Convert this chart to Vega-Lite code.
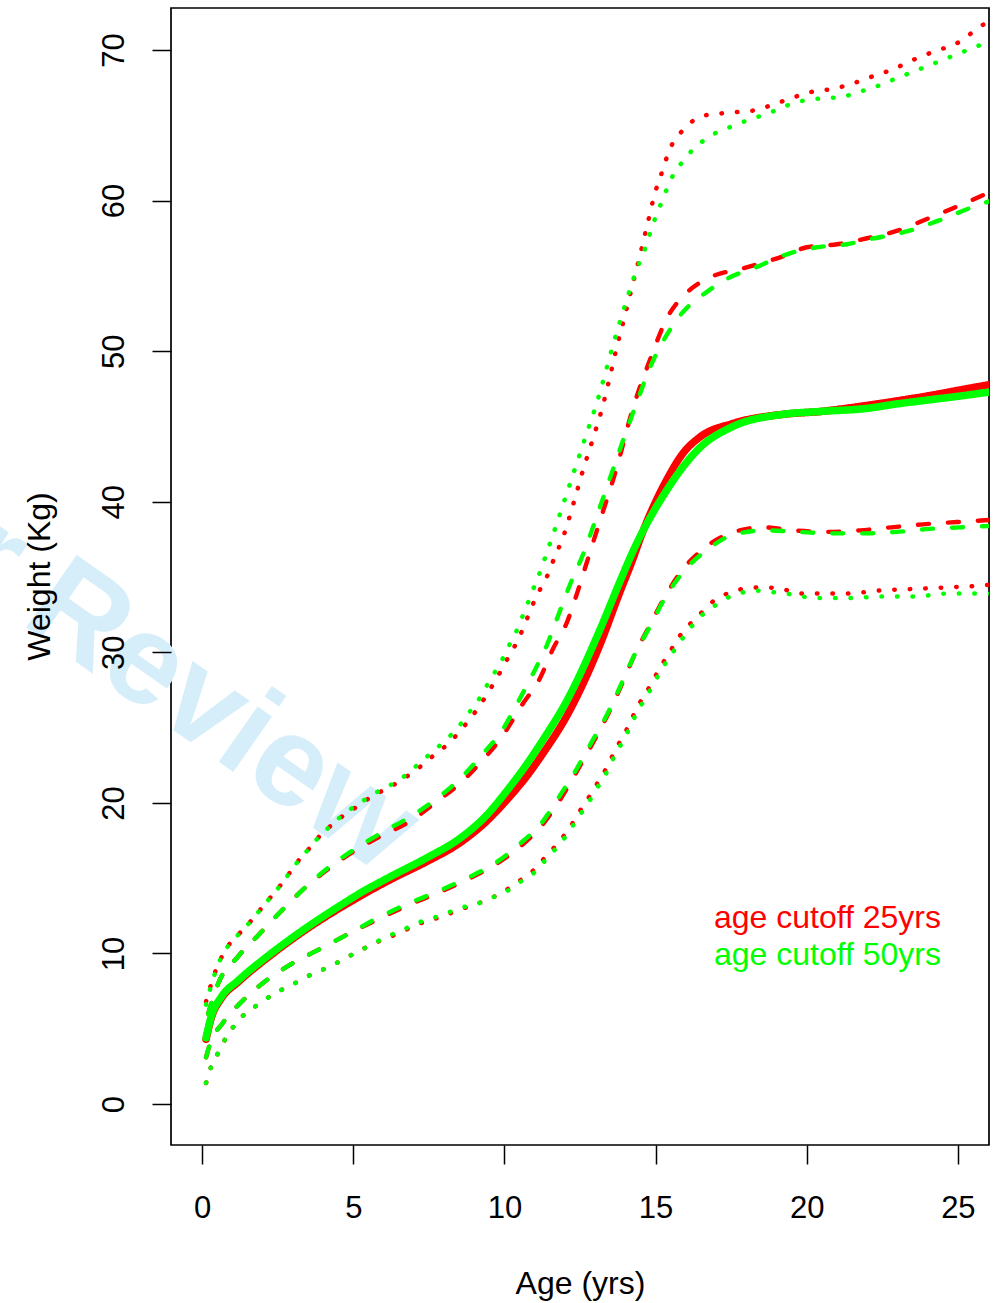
{
"$schema": "https://vega.github.io/schema/vega-lite/v6.json",
"width": 818,
"height": 1137,
"autosize": {"type": "none"},
"padding": {"left": 171, "top": 8, "right": 10, "bottom": 158},
"background": "white",
"config": {
  "view": {"stroke": "black", "strokeWidth": 1.7},
  "font": "Liberation Sans"
},
"datasets": {
"notes": [
  {"age": 5.9, "weight": 15.2, "label": "For Peer Review", "kind": "watermark"}
],
"legend": [
  {"age": 16.93, "weight": 11.69, "label": "age cutoff 25yrs", "cutoff": "25yrs"},
  {"age": 16.93, "weight": 9.23, "label": "age cutoff 50yrs", "cutoff": "50yrs"}
],
"curves": [
{"cutoff":"25yrs","curve":"median","age":0.13,"weight":4.3},
{"cutoff":"25yrs","curve":"median","age":0.3,"weight":5.7},
{"cutoff":"25yrs","curve":"median","age":0.63,"weight":7.0},
{"cutoff":"25yrs","curve":"median","age":1.19,"weight":8.1},
{"cutoff":"25yrs","curve":"median","age":2.28,"weight":9.9},
{"cutoff":"25yrs","curve":"median","age":3.37,"weight":11.5},
{"cutoff":"25yrs","curve":"median","age":4.5,"weight":12.95},
{"cutoff":"25yrs","curve":"median","age":5.22,"weight":13.8},
{"cutoff":"25yrs","curve":"median","age":6.32,"weight":15.0},
{"cutoff":"25yrs","curve":"median","age":7.43,"weight":16.1},
{"cutoff":"25yrs","curve":"median","age":8.53,"weight":17.35},
{"cutoff":"25yrs","curve":"median","age":9.42,"weight":18.8},
{"cutoff":"25yrs","curve":"median","age":10.08,"weight":20.2},
{"cutoff":"25yrs","curve":"median","age":10.75,"weight":21.8},
{"cutoff":"25yrs","curve":"median","age":11.28,"weight":23.3},
{"cutoff":"25yrs","curve":"median","age":12.07,"weight":25.8},
{"cutoff":"25yrs","curve":"median","age":13.16,"weight":30.5},
{"cutoff":"25yrs","curve":"median","age":13.8,"weight":33.9},
{"cutoff":"25yrs","curve":"median","age":14.25,"weight":36.2},
{"cutoff":"25yrs","curve":"median","age":14.5,"weight":37.6},
{"cutoff":"25yrs","curve":"median","age":15.38,"weight":41.5},
{"cutoff":"25yrs","curve":"median","age":15.9,"weight":43.2},
{"cutoff":"25yrs","curve":"median","age":16.47,"weight":44.3},
{"cutoff":"25yrs","curve":"median","age":17.56,"weight":45.2},
{"cutoff":"25yrs","curve":"median","age":19.2,"weight":45.8},
{"cutoff":"25yrs","curve":"median","age":20.5,"weight":46.0},
{"cutoff":"25yrs","curve":"median","age":22.0,"weight":46.4},
{"cutoff":"25yrs","curve":"median","age":23.0,"weight":46.7},
{"cutoff":"25yrs","curve":"median","age":24.2,"weight":47.1},
{"cutoff":"25yrs","curve":"median","age":25.0,"weight":47.4},
{"cutoff":"25yrs","curve":"median","age":26.1,"weight":47.8},

{"cutoff":"50yrs","curve":"median","age":0.13,"weight":4.4},
{"cutoff":"50yrs","curve":"median","age":0.3,"weight":5.8},
{"cutoff":"50yrs","curve":"median","age":0.63,"weight":7.1},
{"cutoff":"50yrs","curve":"median","age":1.19,"weight":8.2},
{"cutoff":"50yrs","curve":"median","age":2.28,"weight":10.0},
{"cutoff":"50yrs","curve":"median","age":3.37,"weight":11.6},
{"cutoff":"50yrs","curve":"median","age":4.5,"weight":13.1},
{"cutoff":"50yrs","curve":"median","age":5.22,"weight":14.0},
{"cutoff":"50yrs","curve":"median","age":6.32,"weight":15.2},
{"cutoff":"50yrs","curve":"median","age":7.43,"weight":16.35},
{"cutoff":"50yrs","curve":"median","age":8.53,"weight":17.65},
{"cutoff":"50yrs","curve":"median","age":9.42,"weight":19.2},
{"cutoff":"50yrs","curve":"median","age":10.08,"weight":20.8},
{"cutoff":"50yrs","curve":"median","age":10.75,"weight":22.6},
{"cutoff":"50yrs","curve":"median","age":11.28,"weight":24.2},
{"cutoff":"50yrs","curve":"median","age":12.07,"weight":26.8},
{"cutoff":"50yrs","curve":"median","age":13.16,"weight":31.5},
{"cutoff":"50yrs","curve":"median","age":13.8,"weight":34.6},
{"cutoff":"50yrs","curve":"median","age":14.25,"weight":36.7},
{"cutoff":"50yrs","curve":"median","age":15.38,"weight":40.8},
{"cutoff":"50yrs","curve":"median","age":15.9,"weight":42.3},
{"cutoff":"50yrs","curve":"median","age":16.47,"weight":43.6},
{"cutoff":"50yrs","curve":"median","age":17.56,"weight":45.0},
{"cutoff":"50yrs","curve":"median","age":19.2,"weight":45.8},
{"cutoff":"50yrs","curve":"median","age":20.5,"weight":46.0},
{"cutoff":"50yrs","curve":"median","age":22.0,"weight":46.2},
{"cutoff":"50yrs","curve":"median","age":23.0,"weight":46.5},
{"cutoff":"50yrs","curve":"median","age":24.2,"weight":46.8},
{"cutoff":"50yrs","curve":"median","age":25.0,"weight":47.0},
{"cutoff":"50yrs","curve":"median","age":26.1,"weight":47.3},

{"cutoff":"25yrs","curve":"upper inner","age":0.2,"weight":6.0},
{"cutoff":"25yrs","curve":"upper inner","age":0.53,"weight":8.0},
{"cutoff":"25yrs","curve":"upper inner","age":1.19,"weight":9.8},
{"cutoff":"25yrs","curve":"upper inner","age":1.85,"weight":11.2},
{"cutoff":"25yrs","curve":"upper inner","age":2.61,"weight":12.8},
{"cutoff":"25yrs","curve":"upper inner","age":3.37,"weight":14.3},
{"cutoff":"25yrs","curve":"upper inner","age":4.17,"weight":15.6},
{"cutoff":"25yrs","curve":"upper inner","age":5.03,"weight":16.8},
{"cutoff":"25yrs","curve":"upper inner","age":5.92,"weight":17.8},
{"cutoff":"25yrs","curve":"upper inner","age":6.9,"weight":18.8},
{"cutoff":"25yrs","curve":"upper inner","age":7.77,"weight":20.1},
{"cutoff":"25yrs","curve":"upper inner","age":8.53,"weight":21.3},
{"cutoff":"25yrs","curve":"upper inner","age":9.26,"weight":22.8},
{"cutoff":"25yrs","curve":"upper inner","age":9.92,"weight":24.4},
{"cutoff":"25yrs","curve":"upper inner","age":10.58,"weight":26.5},
{"cutoff":"25yrs","curve":"upper inner","age":11.18,"weight":28.3},
{"cutoff":"25yrs","curve":"upper inner","age":11.6,"weight":30.2},
{"cutoff":"25yrs","curve":"upper inner","age":12.07,"weight":32.0},
{"cutoff":"25yrs","curve":"upper inner","age":12.4,"weight":33.9},
{"cutoff":"25yrs","curve":"upper inner","age":12.73,"weight":36.0},
{"cutoff":"25yrs","curve":"upper inner","age":13.06,"weight":38.1},
{"cutoff":"25yrs","curve":"upper inner","age":13.72,"weight":42.3},
{"cutoff":"25yrs","curve":"upper inner","age":14.25,"weight":46.2},
{"cutoff":"25yrs","curve":"upper inner","age":14.81,"weight":49.4},
{"cutoff":"25yrs","curve":"upper inner","age":15.38,"weight":52.2},
{"cutoff":"25yrs","curve":"upper inner","age":16.04,"weight":53.9},
{"cutoff":"25yrs","curve":"upper inner","age":16.8,"weight":54.9},
{"cutoff":"25yrs","curve":"upper inner","age":17.89,"weight":55.5},
{"cutoff":"25yrs","curve":"upper inner","age":19.21,"weight":56.3},
{"cutoff":"25yrs","curve":"upper inner","age":20.0,"weight":56.9},
{"cutoff":"25yrs","curve":"upper inner","age":21.0,"weight":57.1},
{"cutoff":"25yrs","curve":"upper inner","age":22.0,"weight":57.5},
{"cutoff":"25yrs","curve":"upper inner","age":23.0,"weight":58.0},
{"cutoff":"25yrs","curve":"upper inner","age":24.0,"weight":58.8},
{"cutoff":"25yrs","curve":"upper inner","age":24.97,"weight":59.6},
{"cutoff":"25yrs","curve":"upper inner","age":26.1,"weight":60.6},

{"cutoff":"50yrs","curve":"upper inner","age":0.2,"weight":6.0},
{"cutoff":"50yrs","curve":"upper inner","age":0.53,"weight":8.0},
{"cutoff":"50yrs","curve":"upper inner","age":1.19,"weight":9.8},
{"cutoff":"50yrs","curve":"upper inner","age":1.85,"weight":11.2},
{"cutoff":"50yrs","curve":"upper inner","age":2.61,"weight":12.8},
{"cutoff":"50yrs","curve":"upper inner","age":3.37,"weight":14.3},
{"cutoff":"50yrs","curve":"upper inner","age":4.17,"weight":15.7},
{"cutoff":"50yrs","curve":"upper inner","age":5.03,"weight":16.9},
{"cutoff":"50yrs","curve":"upper inner","age":5.92,"weight":18.0},
{"cutoff":"50yrs","curve":"upper inner","age":6.9,"weight":19.1},
{"cutoff":"50yrs","curve":"upper inner","age":7.77,"weight":20.3},
{"cutoff":"50yrs","curve":"upper inner","age":8.53,"weight":21.6},
{"cutoff":"50yrs","curve":"upper inner","age":9.26,"weight":23.2},
{"cutoff":"50yrs","curve":"upper inner","age":9.92,"weight":24.8},
{"cutoff":"50yrs","curve":"upper inner","age":10.45,"weight":26.7},
{"cutoff":"50yrs","curve":"upper inner","age":10.95,"weight":28.6},
{"cutoff":"50yrs","curve":"upper inner","age":11.41,"weight":30.5},
{"cutoff":"50yrs","curve":"upper inner","age":11.77,"weight":32.4},
{"cutoff":"50yrs","curve":"upper inner","age":12.17,"weight":34.5},
{"cutoff":"50yrs","curve":"upper inner","age":12.6,"weight":36.5},
{"cutoff":"50yrs","curve":"upper inner","age":13.1,"weight":39.3},
{"cutoff":"50yrs","curve":"upper inner","age":13.6,"weight":42.2},
{"cutoff":"50yrs","curve":"upper inner","age":14.0,"weight":44.5},
{"cutoff":"50yrs","curve":"upper inner","age":14.4,"weight":46.7},
{"cutoff":"50yrs","curve":"upper inner","age":14.75,"weight":48.6},
{"cutoff":"50yrs","curve":"upper inner","age":15.15,"weight":50.3},
{"cutoff":"50yrs","curve":"upper inner","age":15.5,"weight":51.5},
{"cutoff":"50yrs","curve":"upper inner","age":15.74,"weight":52.2},
{"cutoff":"50yrs","curve":"upper inner","age":16.1,"weight":53.0},
{"cutoff":"50yrs","curve":"upper inner","age":16.47,"weight":53.6},
{"cutoff":"50yrs","curve":"upper inner","age":17.36,"weight":54.8},
{"cutoff":"50yrs","curve":"upper inner","age":18.35,"weight":55.6},
{"cutoff":"50yrs","curve":"upper inner","age":19.44,"weight":56.5},
{"cutoff":"50yrs","curve":"upper inner","age":20.34,"weight":56.9},
{"cutoff":"50yrs","curve":"upper inner","age":21.33,"weight":57.1},
{"cutoff":"50yrs","curve":"upper inner","age":22.0,"weight":57.4},
{"cutoff":"50yrs","curve":"upper inner","age":23.4,"weight":58.0},
{"cutoff":"50yrs","curve":"upper inner","age":24.4,"weight":58.7},
{"cutoff":"50yrs","curve":"upper inner","age":25.4,"weight":59.5},
{"cutoff":"50yrs","curve":"upper inner","age":26.1,"weight":60.0},

{"cutoff":"25yrs","curve":"upper outer","age":0.13,"weight":6.8},
{"cutoff":"25yrs","curve":"upper outer","age":0.4,"weight":8.6},
{"cutoff":"25yrs","curve":"upper outer","age":0.86,"weight":10.5},
{"cutoff":"25yrs","curve":"upper outer","age":1.22,"weight":11.3},
{"cutoff":"25yrs","curve":"upper outer","age":1.59,"weight":12.1},
{"cutoff":"25yrs","curve":"upper outer","age":1.92,"weight":12.9},
{"cutoff":"25yrs","curve":"upper outer","age":2.25,"weight":13.7},
{"cutoff":"25yrs","curve":"upper outer","age":2.58,"weight":14.5},
{"cutoff":"25yrs","curve":"upper outer","age":2.91,"weight":15.4},
{"cutoff":"25yrs","curve":"upper outer","age":3.24,"weight":16.3},
{"cutoff":"25yrs","curve":"upper outer","age":3.6,"weight":17.1},
{"cutoff":"25yrs","curve":"upper outer","age":3.93,"weight":17.9},
{"cutoff":"25yrs","curve":"upper outer","age":4.33,"weight":18.6},
{"cutoff":"25yrs","curve":"upper outer","age":4.7,"weight":19.2},
{"cutoff":"25yrs","curve":"upper outer","age":5.16,"weight":19.8},
{"cutoff":"25yrs","curve":"upper outer","age":5.59,"weight":20.4},
{"cutoff":"25yrs","curve":"upper outer","age":6.05,"weight":20.9},
{"cutoff":"25yrs","curve":"upper outer","age":6.51,"weight":21.4},
{"cutoff":"25yrs","curve":"upper outer","age":6.94,"weight":22.0},
{"cutoff":"25yrs","curve":"upper outer","age":7.34,"weight":22.6},
{"cutoff":"25yrs","curve":"upper outer","age":7.74,"weight":23.3},
{"cutoff":"25yrs","curve":"upper outer","age":8.13,"weight":23.9},
{"cutoff":"25yrs","curve":"upper outer","age":8.5,"weight":24.7},
{"cutoff":"25yrs","curve":"upper outer","age":8.83,"weight":25.5},
{"cutoff":"25yrs","curve":"upper outer","age":9.13,"weight":26.3},
{"cutoff":"25yrs","curve":"upper outer","age":9.42,"weight":27.2},
{"cutoff":"25yrs","curve":"upper outer","age":9.69,"weight":28.1},
{"cutoff":"25yrs","curve":"upper outer","age":9.95,"weight":29.0},
{"cutoff":"25yrs","curve":"upper outer","age":10.19,"weight":29.9},
{"cutoff":"25yrs","curve":"upper outer","age":10.42,"weight":30.7},
{"cutoff":"25yrs","curve":"upper outer","age":10.62,"weight":31.6},
{"cutoff":"25yrs","curve":"upper outer","age":10.82,"weight":32.6},
{"cutoff":"25yrs","curve":"upper outer","age":11.01,"weight":33.5},
{"cutoff":"25yrs","curve":"upper outer","age":11.21,"weight":34.3},
{"cutoff":"25yrs","curve":"upper outer","age":11.4,"weight":35.0},
{"cutoff":"25yrs","curve":"upper outer","age":11.6,"weight":36.0},
{"cutoff":"25yrs","curve":"upper outer","age":12.0,"weight":38.0},
{"cutoff":"25yrs","curve":"upper outer","age":12.3,"weight":40.0},
{"cutoff":"25yrs","curve":"upper outer","age":12.6,"weight":42.1},
{"cutoff":"25yrs","curve":"upper outer","age":12.93,"weight":44.2},
{"cutoff":"25yrs","curve":"upper outer","age":13.23,"weight":46.2},
{"cutoff":"25yrs","curve":"upper outer","age":13.49,"weight":48.3},
{"cutoff":"25yrs","curve":"upper outer","age":13.72,"weight":50.3},
{"cutoff":"25yrs","curve":"upper outer","age":13.99,"weight":52.4},
{"cutoff":"25yrs","curve":"upper outer","age":14.25,"weight":54.5},
{"cutoff":"25yrs","curve":"upper outer","age":14.5,"weight":56.5},
{"cutoff":"25yrs","curve":"upper outer","age":14.75,"weight":58.6},
{"cutoff":"25yrs","curve":"upper outer","age":14.98,"weight":60.5},
{"cutoff":"25yrs","curve":"upper outer","age":15.18,"weight":61.7},
{"cutoff":"25yrs","curve":"upper outer","age":15.34,"weight":62.7},
{"cutoff":"25yrs","curve":"upper outer","age":15.54,"weight":63.7},
{"cutoff":"25yrs","curve":"upper outer","age":15.87,"weight":64.6},
{"cutoff":"25yrs","curve":"upper outer","age":16.24,"weight":65.3},
{"cutoff":"25yrs","curve":"upper outer","age":16.73,"weight":65.7},
{"cutoff":"25yrs","curve":"upper outer","age":17.23,"weight":65.8},
{"cutoff":"25yrs","curve":"upper outer","age":17.8,"weight":65.9},
{"cutoff":"25yrs","curve":"upper outer","age":18.29,"weight":66.0},
{"cutoff":"25yrs","curve":"upper outer","age":18.78,"weight":66.3},
{"cutoff":"25yrs","curve":"upper outer","age":19.34,"weight":66.7},
{"cutoff":"25yrs","curve":"upper outer","age":19.78,"weight":67.0},
{"cutoff":"25yrs","curve":"upper outer","age":20.33,"weight":67.3},
{"cutoff":"25yrs","curve":"upper outer","age":20.87,"weight":67.4},
{"cutoff":"25yrs","curve":"upper outer","age":21.37,"weight":67.7},
{"cutoff":"25yrs","curve":"upper outer","age":21.86,"weight":68.0},
{"cutoff":"25yrs","curve":"upper outer","age":22.36,"weight":68.4},
{"cutoff":"25yrs","curve":"upper outer","age":22.85,"weight":68.7},
{"cutoff":"25yrs","curve":"upper outer","age":23.35,"weight":69.2},
{"cutoff":"25yrs","curve":"upper outer","age":23.84,"weight":69.6},
{"cutoff":"25yrs","curve":"upper outer","age":24.34,"weight":70.0},
{"cutoff":"25yrs","curve":"upper outer","age":24.84,"weight":70.3},
{"cutoff":"25yrs","curve":"upper outer","age":25.3,"weight":70.9},
{"cutoff":"25yrs","curve":"upper outer","age":25.7,"weight":71.5},
{"cutoff":"25yrs","curve":"upper outer","age":26.1,"weight":72.0},

{"cutoff":"50yrs","curve":"upper outer","age":0.13,"weight":6.6},
{"cutoff":"50yrs","curve":"upper outer","age":0.26,"weight":7.6},
{"cutoff":"50yrs","curve":"upper outer","age":0.6,"weight":9.6},
{"cutoff":"50yrs","curve":"upper outer","age":0.86,"weight":10.5},
{"cutoff":"50yrs","curve":"upper outer","age":1.22,"weight":11.3},
{"cutoff":"50yrs","curve":"upper outer","age":1.59,"weight":12.1},
{"cutoff":"50yrs","curve":"upper outer","age":1.92,"weight":12.9},
{"cutoff":"50yrs","curve":"upper outer","age":2.25,"weight":13.7},
{"cutoff":"50yrs","curve":"upper outer","age":2.58,"weight":14.5},
{"cutoff":"50yrs","curve":"upper outer","age":2.91,"weight":15.4},
{"cutoff":"50yrs","curve":"upper outer","age":3.24,"weight":16.3},
{"cutoff":"50yrs","curve":"upper outer","age":3.6,"weight":17.1},
{"cutoff":"50yrs","curve":"upper outer","age":3.93,"weight":17.9},
{"cutoff":"50yrs","curve":"upper outer","age":4.33,"weight":18.6},
{"cutoff":"50yrs","curve":"upper outer","age":4.7,"weight":19.3},
{"cutoff":"50yrs","curve":"upper outer","age":5.16,"weight":19.9},
{"cutoff":"50yrs","curve":"upper outer","age":5.59,"weight":20.5},
{"cutoff":"50yrs","curve":"upper outer","age":6.05,"weight":21.0},
{"cutoff":"50yrs","curve":"upper outer","age":6.51,"weight":21.5},
{"cutoff":"50yrs","curve":"upper outer","age":6.94,"weight":22.2},
{"cutoff":"50yrs","curve":"upper outer","age":7.34,"weight":22.9},
{"cutoff":"50yrs","curve":"upper outer","age":7.74,"weight":23.6},
{"cutoff":"50yrs","curve":"upper outer","age":8.13,"weight":24.3},
{"cutoff":"50yrs","curve":"upper outer","age":8.5,"weight":25.1},
{"cutoff":"50yrs","curve":"upper outer","age":8.83,"weight":26.0},
{"cutoff":"50yrs","curve":"upper outer","age":9.13,"weight":26.8},
{"cutoff":"50yrs","curve":"upper outer","age":9.42,"weight":27.8},
{"cutoff":"50yrs","curve":"upper outer","age":9.69,"weight":28.7},
{"cutoff":"50yrs","curve":"upper outer","age":9.95,"weight":29.6},
{"cutoff":"50yrs","curve":"upper outer","age":10.19,"weight":30.6},
{"cutoff":"50yrs","curve":"upper outer","age":10.42,"weight":31.5},
{"cutoff":"50yrs","curve":"upper outer","age":10.62,"weight":32.5},
{"cutoff":"50yrs","curve":"upper outer","age":10.82,"weight":33.5},
{"cutoff":"50yrs","curve":"upper outer","age":11.01,"weight":34.5},
{"cutoff":"50yrs","curve":"upper outer","age":11.21,"weight":35.5},
{"cutoff":"50yrs","curve":"upper outer","age":11.38,"weight":36.5},
{"cutoff":"50yrs","curve":"upper outer","age":11.74,"weight":38.6},
{"cutoff":"50yrs","curve":"upper outer","age":12.07,"weight":40.6},
{"cutoff":"50yrs","curve":"upper outer","age":12.4,"weight":42.6},
{"cutoff":"50yrs","curve":"upper outer","age":12.73,"weight":44.6},
{"cutoff":"50yrs","curve":"upper outer","age":13.06,"weight":46.6},
{"cutoff":"50yrs","curve":"upper outer","age":13.29,"weight":48.2},
{"cutoff":"50yrs","curve":"upper outer","age":13.59,"weight":50.4},
{"cutoff":"50yrs","curve":"upper outer","age":13.92,"weight":52.6},
{"cutoff":"50yrs","curve":"upper outer","age":14.25,"weight":54.7},
{"cutoff":"50yrs","curve":"upper outer","age":14.45,"weight":55.8},
{"cutoff":"50yrs","curve":"upper outer","age":14.65,"weight":56.8},
{"cutoff":"50yrs","curve":"upper outer","age":14.81,"weight":57.8},
{"cutoff":"50yrs","curve":"upper outer","age":14.98,"weight":58.8},
{"cutoff":"50yrs","curve":"upper outer","age":15.18,"weight":59.8},
{"cutoff":"50yrs","curve":"upper outer","age":15.38,"weight":60.8},
{"cutoff":"50yrs","curve":"upper outer","age":15.61,"weight":61.8},
{"cutoff":"50yrs","curve":"upper outer","age":15.9,"weight":62.6},
{"cutoff":"50yrs","curve":"upper outer","age":16.24,"weight":63.4},
{"cutoff":"50yrs","curve":"upper outer","age":16.67,"weight":64.1},
{"cutoff":"50yrs","curve":"upper outer","age":17.1,"weight":64.6},
{"cutoff":"50yrs","curve":"upper outer","age":17.63,"weight":65.0},
{"cutoff":"50yrs","curve":"upper outer","age":18.12,"weight":65.4},
{"cutoff":"50yrs","curve":"upper outer","age":18.6,"weight":65.7},
{"cutoff":"50yrs","curve":"upper outer","age":19.1,"weight":66.1},
{"cutoff":"50yrs","curve":"upper outer","age":19.6,"weight":66.5},
{"cutoff":"50yrs","curve":"upper outer","age":20.1,"weight":66.7},
{"cutoff":"50yrs","curve":"upper outer","age":20.6,"weight":66.8},
{"cutoff":"50yrs","curve":"upper outer","age":21.2,"weight":66.9},
{"cutoff":"50yrs","curve":"upper outer","age":21.7,"weight":67.2},
{"cutoff":"50yrs","curve":"upper outer","age":22.2,"weight":67.5},
{"cutoff":"50yrs","curve":"upper outer","age":22.7,"weight":67.9},
{"cutoff":"50yrs","curve":"upper outer","age":23.2,"weight":68.3},
{"cutoff":"50yrs","curve":"upper outer","age":23.7,"weight":68.7},
{"cutoff":"50yrs","curve":"upper outer","age":24.2,"weight":69.1},
{"cutoff":"50yrs","curve":"upper outer","age":24.7,"weight":69.5},
{"cutoff":"50yrs","curve":"upper outer","age":25.2,"weight":69.9},
{"cutoff":"50yrs","curve":"upper outer","age":25.7,"weight":70.3},
{"cutoff":"50yrs","curve":"upper outer","age":26.1,"weight":70.6},

{"cutoff":"25yrs","curve":"lower inner","age":0.13,"weight":3.1},
{"cutoff":"25yrs","curve":"lower inner","age":0.26,"weight":4.0},
{"cutoff":"25yrs","curve":"lower inner","age":0.69,"weight":5.4},
{"cutoff":"25yrs","curve":"lower inner","age":1.36,"weight":6.9},
{"cutoff":"25yrs","curve":"lower inner","age":2.12,"weight":8.2},
{"cutoff":"25yrs","curve":"lower inner","age":3.04,"weight":9.4},
{"cutoff":"25yrs","curve":"lower inner","age":4.0,"weight":10.4},
{"cutoff":"25yrs","curve":"lower inner","age":4.93,"weight":11.4},
{"cutoff":"25yrs","curve":"lower inner","age":5.85,"weight":12.3},
{"cutoff":"25yrs","curve":"lower inner","age":6.81,"weight":13.2},
{"cutoff":"25yrs","curve":"lower inner","age":7.77,"weight":14.0},
{"cutoff":"25yrs","curve":"lower inner","age":8.76,"weight":14.9},
{"cutoff":"25yrs","curve":"lower inner","age":9.69,"weight":15.9},
{"cutoff":"25yrs","curve":"lower inner","age":10.52,"weight":17.1},
{"cutoff":"25yrs","curve":"lower inner","age":11.24,"weight":18.5},
{"cutoff":"25yrs","curve":"lower inner","age":11.84,"weight":20.2},
{"cutoff":"25yrs","curve":"lower inner","age":12.4,"weight":22.1},
{"cutoff":"25yrs","curve":"lower inner","age":12.93,"weight":24.0},
{"cutoff":"25yrs","curve":"lower inner","age":13.43,"weight":25.9},
{"cutoff":"25yrs","curve":"lower inner","age":13.89,"weight":27.9},
{"cutoff":"25yrs","curve":"lower inner","age":14.32,"weight":29.9},
{"cutoff":"25yrs","curve":"lower inner","age":14.81,"weight":31.8},
{"cutoff":"25yrs","curve":"lower inner","age":15.31,"weight":33.7},
{"cutoff":"25yrs","curve":"lower inner","age":15.9,"weight":35.5},
{"cutoff":"25yrs","curve":"lower inner","age":16.6,"weight":36.9},
{"cutoff":"25yrs","curve":"lower inner","age":17.46,"weight":37.9},
{"cutoff":"25yrs","curve":"lower inner","age":18.55,"weight":38.3},
{"cutoff":"25yrs","curve":"lower inner","age":19.54,"weight":38.1},
{"cutoff":"25yrs","curve":"lower inner","age":20.67,"weight":38.0},
{"cutoff":"25yrs","curve":"lower inner","age":21.76,"weight":38.1},
{"cutoff":"25yrs","curve":"lower inner","age":22.8,"weight":38.3},
{"cutoff":"25yrs","curve":"lower inner","age":23.84,"weight":38.5},
{"cutoff":"25yrs","curve":"lower inner","age":24.97,"weight":38.65},
{"cutoff":"25yrs","curve":"lower inner","age":26.1,"weight":38.8},

{"cutoff":"50yrs","curve":"lower inner","age":0.13,"weight":3.1},
{"cutoff":"50yrs","curve":"lower inner","age":0.26,"weight":4.0},
{"cutoff":"50yrs","curve":"lower inner","age":0.69,"weight":5.4},
{"cutoff":"50yrs","curve":"lower inner","age":1.36,"weight":6.9},
{"cutoff":"50yrs","curve":"lower inner","age":2.12,"weight":8.2},
{"cutoff":"50yrs","curve":"lower inner","age":3.04,"weight":9.4},
{"cutoff":"50yrs","curve":"lower inner","age":4.0,"weight":10.4},
{"cutoff":"50yrs","curve":"lower inner","age":4.93,"weight":11.4},
{"cutoff":"50yrs","curve":"lower inner","age":5.85,"weight":12.4},
{"cutoff":"50yrs","curve":"lower inner","age":6.81,"weight":13.3},
{"cutoff":"50yrs","curve":"lower inner","age":7.77,"weight":14.1},
{"cutoff":"50yrs","curve":"lower inner","age":8.76,"weight":15.0},
{"cutoff":"50yrs","curve":"lower inner","age":9.69,"weight":16.0},
{"cutoff":"50yrs","curve":"lower inner","age":10.52,"weight":17.3},
{"cutoff":"50yrs","curve":"lower inner","age":11.24,"weight":18.7},
{"cutoff":"50yrs","curve":"lower inner","age":11.84,"weight":20.5},
{"cutoff":"50yrs","curve":"lower inner","age":12.4,"weight":22.3},
{"cutoff":"50yrs","curve":"lower inner","age":12.93,"weight":24.2},
{"cutoff":"50yrs","curve":"lower inner","age":13.43,"weight":26.0},
{"cutoff":"50yrs","curve":"lower inner","age":13.89,"weight":28.0},
{"cutoff":"50yrs","curve":"lower inner","age":14.32,"weight":29.9},
{"cutoff":"50yrs","curve":"lower inner","age":14.81,"weight":31.7},
{"cutoff":"50yrs","curve":"lower inner","age":15.31,"weight":33.6},
{"cutoff":"50yrs","curve":"lower inner","age":15.9,"weight":35.3},
{"cutoff":"50yrs","curve":"lower inner","age":16.7,"weight":36.8},
{"cutoff":"50yrs","curve":"lower inner","age":17.56,"weight":37.8},
{"cutoff":"50yrs","curve":"lower inner","age":18.62,"weight":38.1},
{"cutoff":"50yrs","curve":"lower inner","age":19.68,"weight":38.0},
{"cutoff":"50yrs","curve":"lower inner","age":20.87,"weight":37.9},
{"cutoff":"50yrs","curve":"lower inner","age":22.0,"weight":37.9},
{"cutoff":"50yrs","curve":"lower inner","age":22.98,"weight":38.0},
{"cutoff":"50yrs","curve":"lower inner","age":24.07,"weight":38.2},
{"cutoff":"50yrs","curve":"lower inner","age":25.07,"weight":38.3},
{"cutoff":"50yrs","curve":"lower inner","age":26.1,"weight":38.4},

{"cutoff":"25yrs","curve":"lower outer","age":0.13,"weight":1.4},
{"cutoff":"25yrs","curve":"lower outer","age":0.3,"weight":2.5},
{"cutoff":"25yrs","curve":"lower outer","age":0.53,"weight":3.4},
{"cutoff":"25yrs","curve":"lower outer","age":0.76,"weight":4.3},
{"cutoff":"25yrs","curve":"lower outer","age":1.06,"weight":5.2},
{"cutoff":"25yrs","curve":"lower outer","age":1.42,"weight":6.0},
{"cutoff":"25yrs","curve":"lower outer","age":1.85,"weight":6.6},
{"cutoff":"25yrs","curve":"lower outer","age":2.28,"weight":7.2},
{"cutoff":"25yrs","curve":"lower outer","age":2.74,"weight":7.7},
{"cutoff":"25yrs","curve":"lower outer","age":3.24,"weight":8.2},
{"cutoff":"25yrs","curve":"lower outer","age":3.7,"weight":8.7},
{"cutoff":"25yrs","curve":"lower outer","age":4.2,"weight":9.1},
{"cutoff":"25yrs","curve":"lower outer","age":4.66,"weight":9.6},
{"cutoff":"25yrs","curve":"lower outer","age":5.13,"weight":10.1},
{"cutoff":"25yrs","curve":"lower outer","age":5.62,"weight":10.6},
{"cutoff":"25yrs","curve":"lower outer","age":6.08,"weight":11.0},
{"cutoff":"25yrs","curve":"lower outer","age":6.58,"weight":11.4},
{"cutoff":"25yrs","curve":"lower outer","age":7.08,"weight":11.9},
{"cutoff":"25yrs","curve":"lower outer","age":7.54,"weight":12.2},
{"cutoff":"25yrs","curve":"lower outer","age":8.0,"weight":12.5},
{"cutoff":"25yrs","curve":"lower outer","age":8.5,"weight":12.9},
{"cutoff":"25yrs","curve":"lower outer","age":9.1,"weight":13.3},
{"cutoff":"25yrs","curve":"lower outer","age":9.59,"weight":13.7},
{"cutoff":"25yrs","curve":"lower outer","age":10.05,"weight":14.2},
{"cutoff":"25yrs","curve":"lower outer","age":10.48,"weight":14.8},
{"cutoff":"25yrs","curve":"lower outer","age":10.95,"weight":15.5},
{"cutoff":"25yrs","curve":"lower outer","age":11.31,"weight":16.3},
{"cutoff":"25yrs","curve":"lower outer","age":11.67,"weight":17.1},
{"cutoff":"25yrs","curve":"lower outer","age":12.0,"weight":17.9},
{"cutoff":"25yrs","curve":"lower outer","age":12.3,"weight":18.8},
{"cutoff":"25yrs","curve":"lower outer","age":12.6,"weight":19.8},
{"cutoff":"25yrs","curve":"lower outer","age":12.9,"weight":20.7},
{"cutoff":"25yrs","curve":"lower outer","age":13.16,"weight":21.6},
{"cutoff":"25yrs","curve":"lower outer","age":13.43,"weight":22.5},
{"cutoff":"25yrs","curve":"lower outer","age":13.66,"weight":23.5},
{"cutoff":"25yrs","curve":"lower outer","age":13.92,"weight":24.4},
{"cutoff":"25yrs","curve":"lower outer","age":14.15,"weight":25.3},
{"cutoff":"25yrs","curve":"lower outer","age":14.38,"weight":26.3},
{"cutoff":"25yrs","curve":"lower outer","age":14.65,"weight":27.2},
{"cutoff":"25yrs","curve":"lower outer","age":14.91,"weight":28.1},
{"cutoff":"25yrs","curve":"lower outer","age":15.18,"weight":29.1},
{"cutoff":"25yrs","curve":"lower outer","age":15.44,"weight":29.9},
{"cutoff":"25yrs","curve":"lower outer","age":15.67,"weight":30.7},
{"cutoff":"25yrs","curve":"lower outer","age":16.0,"weight":31.6},
{"cutoff":"25yrs","curve":"lower outer","age":16.37,"weight":32.3},
{"cutoff":"25yrs","curve":"lower outer","age":16.73,"weight":33.1},
{"cutoff":"25yrs","curve":"lower outer","age":17.16,"weight":33.7},
{"cutoff":"25yrs","curve":"lower outer","age":17.66,"weight":34.1},
{"cutoff":"25yrs","curve":"lower outer","age":18.19,"weight":34.3},
{"cutoff":"25yrs","curve":"lower outer","age":18.68,"weight":34.3},
{"cutoff":"25yrs","curve":"lower outer","age":19.21,"weight":34.2},
{"cutoff":"25yrs","curve":"lower outer","age":19.74,"weight":33.9},
{"cutoff":"25yrs","curve":"lower outer","age":20.27,"weight":33.9},
{"cutoff":"25yrs","curve":"lower outer","age":20.8,"weight":33.9},
{"cutoff":"25yrs","curve":"lower outer","age":21.33,"weight":33.9},
{"cutoff":"25yrs","curve":"lower outer","age":22.39,"weight":34.1},
{"cutoff":"25yrs","curve":"lower outer","age":23.45,"weight":34.2},
{"cutoff":"25yrs","curve":"lower outer","age":24.5,"weight":34.3},
{"cutoff":"25yrs","curve":"lower outer","age":25.56,"weight":34.4},
{"cutoff":"25yrs","curve":"lower outer","age":26.1,"weight":34.5},

{"cutoff":"50yrs","curve":"lower outer","age":0.13,"weight":1.4},
{"cutoff":"50yrs","curve":"lower outer","age":0.3,"weight":2.5},
{"cutoff":"50yrs","curve":"lower outer","age":0.53,"weight":3.4},
{"cutoff":"50yrs","curve":"lower outer","age":0.76,"weight":4.3},
{"cutoff":"50yrs","curve":"lower outer","age":1.06,"weight":5.2},
{"cutoff":"50yrs","curve":"lower outer","age":1.42,"weight":6.0},
{"cutoff":"50yrs","curve":"lower outer","age":1.85,"weight":6.6},
{"cutoff":"50yrs","curve":"lower outer","age":2.28,"weight":7.2},
{"cutoff":"50yrs","curve":"lower outer","age":2.74,"weight":7.7},
{"cutoff":"50yrs","curve":"lower outer","age":3.24,"weight":8.2},
{"cutoff":"50yrs","curve":"lower outer","age":3.7,"weight":8.7},
{"cutoff":"50yrs","curve":"lower outer","age":4.2,"weight":9.1},
{"cutoff":"50yrs","curve":"lower outer","age":4.66,"weight":9.6},
{"cutoff":"50yrs","curve":"lower outer","age":5.13,"weight":10.1},
{"cutoff":"50yrs","curve":"lower outer","age":5.62,"weight":10.6},
{"cutoff":"50yrs","curve":"lower outer","age":6.08,"weight":11.1},
{"cutoff":"50yrs","curve":"lower outer","age":6.58,"weight":11.5},
{"cutoff":"50yrs","curve":"lower outer","age":7.08,"weight":12.0},
{"cutoff":"50yrs","curve":"lower outer","age":7.54,"weight":12.3},
{"cutoff":"50yrs","curve":"lower outer","age":8.0,"weight":12.6},
{"cutoff":"50yrs","curve":"lower outer","age":8.5,"weight":13.0},
{"cutoff":"50yrs","curve":"lower outer","age":9.1,"weight":13.3},
{"cutoff":"50yrs","curve":"lower outer","age":9.59,"weight":13.7},
{"cutoff":"50yrs","curve":"lower outer","age":10.05,"weight":14.1},
{"cutoff":"50yrs","curve":"lower outer","age":10.48,"weight":14.7},
{"cutoff":"50yrs","curve":"lower outer","age":10.95,"weight":15.3},
{"cutoff":"50yrs","curve":"lower outer","age":11.31,"weight":16.1},
{"cutoff":"50yrs","curve":"lower outer","age":11.67,"weight":16.9},
{"cutoff":"50yrs","curve":"lower outer","age":12.0,"weight":17.7},
{"cutoff":"50yrs","curve":"lower outer","age":12.3,"weight":18.6},
{"cutoff":"50yrs","curve":"lower outer","age":12.6,"weight":19.5},
{"cutoff":"50yrs","curve":"lower outer","age":12.9,"weight":20.4},
{"cutoff":"50yrs","curve":"lower outer","age":13.16,"weight":21.3},
{"cutoff":"50yrs","curve":"lower outer","age":13.43,"weight":22.2},
{"cutoff":"50yrs","curve":"lower outer","age":13.66,"weight":23.2},
{"cutoff":"50yrs","curve":"lower outer","age":13.92,"weight":24.1},
{"cutoff":"50yrs","curve":"lower outer","age":14.15,"weight":25.0},
{"cutoff":"50yrs","curve":"lower outer","age":14.38,"weight":26.0},
{"cutoff":"50yrs","curve":"lower outer","age":14.65,"weight":26.9},
{"cutoff":"50yrs","curve":"lower outer","age":14.91,"weight":27.8},
{"cutoff":"50yrs","curve":"lower outer","age":15.18,"weight":28.8},
{"cutoff":"50yrs","curve":"lower outer","age":15.44,"weight":29.6},
{"cutoff":"50yrs","curve":"lower outer","age":15.74,"weight":30.5},
{"cutoff":"50yrs","curve":"lower outer","age":16.07,"weight":31.4},
{"cutoff":"50yrs","curve":"lower outer","age":16.44,"weight":32.3},
{"cutoff":"50yrs","curve":"lower outer","age":16.83,"weight":32.9},
{"cutoff":"50yrs","curve":"lower outer","age":17.26,"weight":33.5},
{"cutoff":"50yrs","curve":"lower outer","age":17.76,"weight":33.9},
{"cutoff":"50yrs","curve":"lower outer","age":18.29,"weight":34.1},
{"cutoff":"50yrs","curve":"lower outer","age":18.82,"weight":34.0},
{"cutoff":"50yrs","curve":"lower outer","age":19.34,"weight":33.9},
{"cutoff":"50yrs","curve":"lower outer","age":19.87,"weight":33.7},
{"cutoff":"50yrs","curve":"lower outer","age":20.37,"weight":33.6},
{"cutoff":"50yrs","curve":"lower outer","age":20.93,"weight":33.6},
{"cutoff":"50yrs","curve":"lower outer","age":21.43,"weight":33.6},
{"cutoff":"50yrs","curve":"lower outer","age":22.49,"weight":33.7},
{"cutoff":"50yrs","curve":"lower outer","age":23.55,"weight":33.7},
{"cutoff":"50yrs","curve":"lower outer","age":24.64,"weight":33.9},
{"cutoff":"50yrs","curve":"lower outer","age":25.7,"weight":33.9},
{"cutoff":"50yrs","curve":"lower outer","age":26.1,"weight":33.9}
]
},
"encoding": {
  "x": {
    "field": "age", "type": "quantitative",
    "scale": {"domain": [-1.03, 26.03], "nice": false, "zero": false},
    "axis": {
      "values": [0, 5, 10, 15, 20, 25],
      "title": "Age (yrs)",
      "grid": false, "domain": false,
      "tickSize": 19, "tickWidth": 1.5, "tickColor": "black",
      "labelFont": "Liberation Sans", "labelFontSize": 31, "labelColor": "black",
      "labelBaseline": "alphabetic", "labelAlign": "center", "labelPadding": 53,
      "labelFlush": false, "labelOverlap": false,
      "titleFont": "Liberation Sans", "titleFontSize": 32, "titleFontWeight": "normal", "titleColor": "black",
      "titleX": 409, "titleY": 148, "titleAlign": "center", "titleBaseline": "alphabetic", "titleAngle": 0,
      "zindex": 1
    }
  },
  "y": {
    "field": "weight", "type": "quantitative",
    "scale": {"domain": [-2.72, 72.79], "nice": false, "zero": false},
    "axis": {
      "values": [0, 10, 20, 30, 40, 50, 60, 70],
      "title": "Weight (Kg)",
      "grid": false, "domain": false,
      "tickSize": 19, "tickWidth": 1.5, "tickColor": "black",
      "labelFont": "Liberation Sans", "labelFontSize": 31, "labelColor": "black",
      "labelAngle": 270, "labelAlign": "center", "labelBaseline": "alphabetic", "labelPadding": 29,
      "labelFlush": false, "labelOverlap": false,
      "titleFont": "Liberation Sans", "titleFontSize": 32, "titleFontWeight": "normal", "titleColor": "black",
      "titleX": -122, "titleY": 568, "titleAlign": "center", "titleBaseline": "alphabetic", "titleAngle": 270,
      "zindex": 1
    }
  }
},
"layer": [
  {
    "data": {"name": "notes"},
    "mark": {"type": "text", "align": "right", "baseline": "alphabetic", "angle": 35, "fontSize": 128, "fontWeight": "bold", "font": "Liberation Sans", "color": "#d6eefa", "clip": false},
    "encoding": {"text": {"field": "label"}}
  },
  {
    "data": {"name": "curves"},
    "transform": [{"filter": "datum.cutoff === '25yrs'"}],
    "mark": {"type": "line", "clip": true, "strokeCap": "round", "interpolate": "monotone"},
    "encoding": {
      "color": {"field": "cutoff", "type": "nominal", "scale": {"domain": ["25yrs", "50yrs"], "range": ["#ff0000", "#00ff00"]}, "legend": null},
      "detail": {"field": "curve"},
      "strokeDash": {"field": "curve", "type": "nominal", "scale": {"domain": ["lower outer", "lower inner", "median", "upper inner", "upper outer"], "range": [[0.5, 15], [11, 19], [1, 0], [11, 19], [0.5, 15]]}, "legend": null},
      "strokeWidth": {"field": "curve", "type": "ordinal", "scale": {"type": "ordinal", "domain": ["lower outer", "lower inner", "median", "upper inner", "upper outer"], "range": [4.5, 4.4, 7.5, 4.4, 4.5]}, "legend": null},
      "order": {"field": "age", "type": "quantitative"}
    }
  },
  {
    "data": {"name": "curves"},
    "transform": [{"filter": "datum.cutoff === '50yrs'"}],
    "mark": {"type": "line", "clip": true, "strokeCap": "round", "interpolate": "monotone"},
    "encoding": {
      "color": {"field": "cutoff", "type": "nominal", "scale": {"domain": ["25yrs", "50yrs"], "range": ["#ff0000", "#00ff00"]}, "legend": null},
      "detail": {"field": "curve"},
      "strokeDash": {"field": "curve", "type": "nominal", "scale": {"domain": ["lower outer", "lower inner", "median", "upper inner", "upper outer"], "range": [[0.5, 15], [11, 19], [1, 0], [11, 19], [0.5, 15]]}, "legend": null},
      "strokeWidth": {"field": "curve", "type": "ordinal", "scale": {"type": "ordinal", "domain": ["lower outer", "lower inner", "median", "upper inner", "upper outer"], "range": [4.5, 4.4, 7.5, 4.4, 4.5]}, "legend": null},
      "order": {"field": "age", "type": "quantitative"}
    }
  },
  {
    "data": {"name": "legend"},
    "mark": {"type": "text", "align": "left", "baseline": "alphabetic", "fontSize": 32, "font": "Liberation Sans"},
    "encoding": {
      "text": {"field": "label"},
      "color": {"field": "cutoff", "type": "nominal", "scale": {"domain": ["25yrs", "50yrs"], "range": ["#ff0000", "#00ff00"]}, "legend": null}
    }
  }
]
}
